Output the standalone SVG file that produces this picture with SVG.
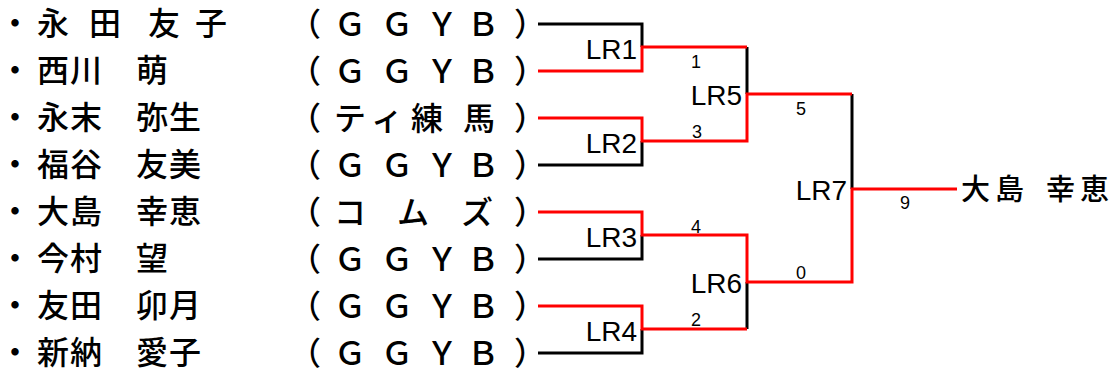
<svg xmlns="http://www.w3.org/2000/svg" width="1111" height="372" viewBox="0 0 1111 372">
<style>
.nm{font-family:"Noto Sans CJK JP","Noto Sans CJK SC",sans-serif;font-size:32px;font-weight:500;fill:#000}
.cd{font-family:"Noto Sans CJK JP","Noto Sans CJK SC",sans-serif;font-size:32px;font-weight:500;fill:#000}
.lr{font-family:"Liberation Sans",Arial,sans-serif;font-size:28px;fill:#000;text-anchor:end}
.sc{font-family:"Liberation Sans",Arial,sans-serif;font-size:18px;fill:#000;text-anchor:middle}
.win{font-family:"Noto Sans CJK JP","Noto Sans CJK SC",sans-serif;font-size:29px;font-weight:500;fill:#000}
.k{fill:none;stroke:#000;stroke-width:3}
.r{fill:none;stroke:#FF0000;stroke-width:3}
</style>
<rect width="1111" height="372" fill="#fff"/>
<g id="connectors">
<path class="k" d="M538,24 H642 V47"/>
<path class="k" d="M538,165 H642 V141"/>
<path class="k" d="M538,259 H642 V235"/>
<path class="k" d="M538,353 H642 V329"/>
<path class="k" d="M747,47 V94"/>
<path class="k" d="M747,329 V282"/>
<path class="k" d="M852,94 V189"/>
<path class="r" d="M538,71 H642 V47 H747"/>
<path class="r" d="M538,118 H642 V141 H747 V94 H852"/>
<path class="r" d="M538,212 H642 V235 H747 V282 H852 V189 H957"/>
<path class="r" d="M538,306 H642 V329 H747"/>
<text class="sc" x="696" y="68">1</text>
<text class="sc" x="697" y="138">3</text>
<text class="sc" x="696" y="233">4</text>
<text class="sc" x="696" y="326">2</text>
<text class="sc" x="801" y="115">5</text>
<text class="sc" x="801" y="279">0</text>
<text class="sc" x="905" y="209">9</text>
</g>
<g id="p1"><text class="nm" x="-1 37 70 89 122 148 181 195" y="35">・永 田　友 子</text><text class="cd" x="289 334 381 426 467 514" y="36">（ＧＧＹＢ）</text></g>
<g id="p2"><text class="nm" x="-1 37 70 103 136" y="82">・西川　萌</text><text class="cd" x="289 334 381 426 467 514" y="83">（ＧＧＹＢ）</text></g>
<g id="p3"><text class="nm" x="-1 37 70 103 136 169" y="129">・永末　弥生</text><text class="cd" x="289 334 371 411 463 514" y="130">（ティ練馬）</text></g>
<g id="p4"><text class="nm" x="-1 37 70 103 136 169" y="176">・福谷　友美</text><text class="cd" x="289 334 381 426 467 514" y="177">（ＧＧＹＢ）</text></g>
<g id="p5"><text class="nm" x="-1 37 70 103 136 169" y="223">・大島　幸恵</text><text class="cd" x="289 334 397 461 514" y="224">（コムズ）</text></g>
<g id="p6"><text class="nm" x="-1 37 70 103 136" y="270">・今村　望</text><text class="cd" x="289 334 381 426 467 514" y="271">（ＧＧＹＢ）</text></g>
<g id="p7"><text class="nm" x="-1 37 70 103 136 169" y="317">・友田　卯月</text><text class="cd" x="289 334 381 426 467 514" y="318">（ＧＧＹＢ）</text></g>
<g id="p8"><text class="nm" x="-1 37 70 103 136 169" y="364">・新納　愛子</text><text class="cd" x="289 334 381 426 467 514" y="365">（ＧＧＹＢ）</text></g>
<g id="LR1"><text class="lr" x="637" y="59">LR1</text></g>
<g id="LR2"><text class="lr" x="637" y="153">LR2</text></g>
<g id="LR3"><text class="lr" x="637" y="247">LR3</text></g>
<g id="LR4"><text class="lr" x="637" y="341">LR4</text></g>
<g id="LR5"><text class="lr" x="742" y="105">LR5</text></g>
<g id="LR6"><text class="lr" x="742" y="293">LR6</text></g>
<g id="LR7"><text class="lr" x="847" y="200">LR7</text></g>
<g id="winner"><text class="win" x="961 995 1029 1046 1080" y="200">大島 幸恵</text></g>
</svg>
